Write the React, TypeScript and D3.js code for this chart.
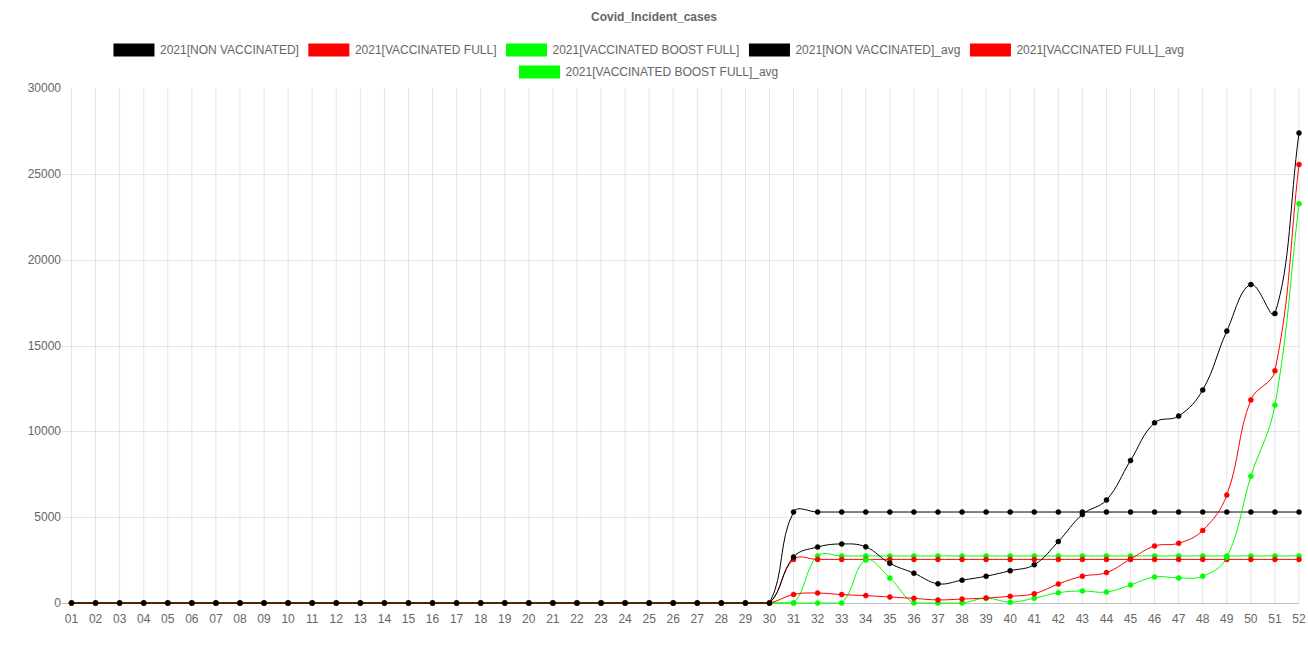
import { useMemo } from 'react'
import { scaleLinear, scalePoint, path as d3path } from 'd3'

const weeks = [
  '01', '02', '03', '04', '05', '06', '07', '08', '09', '10', '11', '12', '13',
  '14', '15', '16', '17', '18', '19', '20', '21', '22', '23', '24', '25', '26',
  '27', '28', '29', '30', '31', '32', '33', '34', '35', '36', '37', '38', '39',
  '40', '41', '42', '43', '44', '45', '46', '47', '48', '49', '50', '51', '52',
]

const nonVaccinated = [
  0, 0, 0, 0, 0, 0, 0, 0, 0, 0, 0, 0, 0, 0, 0, 0, 0, 0, 0, 0, 0, 0, 0, 0, 0, 0, 0, 0, 0, 0,
  2680, 3260, 3440, 3270, 2310, 1740, 1120, 1330, 1560, 1880, 2230, 3580, 5160, 6000,
  8300, 10500, 10890, 12410, 15840, 18550, 16860, 27380,
]

const vaccinatedFull = [
  0, 0, 0, 0, 0, 0, 0, 0, 0, 0, 0, 0, 0, 0, 0, 0, 0, 0, 0, 0, 0, 0, 0, 0, 0, 0, 0, 0, 0, 0,
  500, 580, 490, 430, 350, 270, 180, 230, 290, 390, 540, 1110, 1560, 1770,
  2560, 3320, 3480, 4230, 6290, 11830, 13530, 25550,
]

const vaccinatedBoost = [
  0, 0, 0, 0, 0, 0, 0, 0, 0, 0, 0, 0, 0, 0, 0, 0, 0, 0, 0, 0, 0, 0, 0, 0, 0, 0, 0, 0, 0, 0,
  0, 0, 0, 2500, 1460, 0, 0, 0, 280, 50, 280, 600, 700, 640,
  1050, 1520, 1460, 1560, 2650, 7380, 11530, 23260,
]

const nonVaccinatedAvg = [
  0, 0, 0, 0, 0, 0, 0, 0, 0, 0, 0, 0, 0, 0, 0, 0, 0, 0, 0, 0, 0, 0, 0, 0, 0, 0, 0, 0, 0, 0,
  5300, 5300, 5300, 5300, 5300, 5300, 5300, 5300, 5300, 5300, 5300, 5300, 5300, 5300,
  5300, 5300, 5300, 5300, 5300, 5300, 5300, 5300,
]

const vaccinatedFullAvg = [
  0, 0, 0, 0, 0, 0, 0, 0, 0, 0, 0, 0, 0, 0, 0, 0, 0, 0, 0, 0, 0, 0, 0, 0, 0, 0, 0, 0, 0, 0,
  2540, 2540, 2540, 2540, 2540, 2540, 2540, 2540, 2540, 2540, 2540, 2540, 2540, 2540,
  2540, 2540, 2540, 2540, 2540, 2540, 2540, 2540,
]

const vaccinatedBoostAvg = [
  0, 0, 0, 0, 0, 0, 0, 0, 0, 0, 0, 0, 0, 0, 0, 0, 0, 0, 0, 0, 0, 0, 0, 0, 0, 0, 0, 0, 0, 0,
  0, 2740, 2740, 2740, 2740, 2740, 2740, 2740, 2740, 2740, 2740, 2740, 2740, 2740,
  2740, 2740, 2740, 2740, 2740, 2740, 2740, 2740,
]

const yTicks = [0, 5000, 10000, 15000, 20000, 25000, 30000]

const datasets = [
  { label: '2021[NON VACCINATED]', color: '#000000', values: nonVaccinated },
  { label: '2021[VACCINATED FULL]', color: '#ff0000', values: vaccinatedFull },
  { label: '2021[VACCINATED BOOST FULL]', color: '#00ff00', values: vaccinatedBoost },
  { label: '2021[NON VACCINATED]_avg', color: '#000000', values: nonVaccinatedAvg },
  { label: '2021[VACCINATED FULL]_avg', color: '#ff0000', values: vaccinatedFullAvg },
  { label: '2021[VACCINATED BOOST FULL]_avg', color: '#00ff00', values: vaccinatedBoostAvg },
]

const FONT = '"Liberation Sans", Arial, Helvetica, sans-serif'
const W = 1308
const H = 654
const area = { left: 71.5, right: 1299, top: 88, bottom: 603 }

type Pt = { x: number; y: number }

// chart.js style spline (tension 0.4, control points kept inside the chart area)
function splinePath(pts: Pt[]) {
  const t = 0.4
  const cps = pts.map((cur, i) => {
    const prev = pts[i - 1] || cur
    const next = pts[i + 1] || cur
    const d01 = Math.hypot(cur.x - prev.x, cur.y - prev.y)
    const d12 = Math.hypot(next.x - cur.x, next.y - cur.y)
    let s01 = d01 / (d01 + d12)
    let s12 = d12 / (d01 + d12)
    if (isNaN(s01)) s01 = 0
    if (isNaN(s12)) s12 = 0
    const fa = t * s01
    const fb = t * s12
    const clampY = (v: number) => Math.max(area.top, Math.min(area.bottom, v))
    const clampX = (v: number) => Math.max(area.left, Math.min(area.right, v))
    return {
      prev: { x: clampX(cur.x - fa * (next.x - prev.x)), y: clampY(cur.y - fa * (next.y - prev.y)) },
      next: { x: clampX(cur.x + fb * (next.x - prev.x)), y: clampY(cur.y + fb * (next.y - prev.y)) },
    }
  })
  const p = d3path()
  pts.forEach((pt, i) => {
    if (i === 0) p.moveTo(pt.x, pt.y)
    else p.bezierCurveTo(cps[i - 1].next.x, cps[i - 1].next.y, cps[i].prev.x, cps[i].prev.y, pt.x, pt.y)
  })
  return p.toString()
}

function measure(text: string, font: string) {
  const ctx = document.createElement('canvas').getContext('2d')!
  ctx.font = font
  return ctx.measureText(text).width
}

export default function App() {
  const x = scalePoint<string>().domain(weeks).range([area.left, area.right])
  const y = scaleLinear().domain([0, 30000]).range([area.bottom, area.top])

  // legend rows, laid out like chart.js: box 40, gap 6, padding 10
  const legendRows = useMemo(() => {
    const rows: { items: { label: string; color: string; w: number }[]; width: number }[] = []
    datasets.forEach((d) => {
      const w = 40 + 6 + measure(d.label, `12px ${FONT}`)
      const row = rows[rows.length - 1]
      if (!row || row.width + w + 20 > W) rows.push({ items: [{ label: d.label, color: d.color, w }], width: w + 10 })
      else {
        row.items.push({ label: d.label, color: d.color, w })
        row.width += w + 10
      }
    })
    return rows
  }, [])

  return (
    <div style={{ position: 'absolute', left: 0, top: 0 }}>
      <svg width={W} height={H} style={{ display: 'block', fontFamily: FONT }}>
        <rect width={W} height={H} fill="#fff" />
        <text x={654} y={21} textAnchor="middle" fontSize={12} fontWeight="bold" fill="#666">
          Covid_Incident_cases
        </text>

        {legendRows.map((row, r) => {
          let cx = 654 - row.width / 2
          const top = 44 + r * 22
          return (
            <g key={r}>
              {row.items.map((it) => {
                const x0 = cx
                cx += it.w + 10
                return (
                  <g key={it.label}>
                    <rect x={x0} y={top} width={40} height={12} fill={it.color} stroke={it.color} strokeWidth={1} />
                    <text x={x0 + 46} y={top + 10} fontSize={12} fill="#666">
                      {it.label}
                    </text>
                  </g>
                )
              })}
            </g>
          )
        })}

        {/* grid */}
        {weeks.map((w) => (
          <line key={w} x1={x(w)} x2={x(w)} y1={area.top} y2={area.bottom} stroke="rgba(0,0,0,0.1)" strokeWidth={1} />
        ))}
        {yTicks.filter((v) => v < 30000).map((v) => (
          <line
            key={v}
            x1={area.left - 10}
            x2={area.right}
            y1={Math.round(y(v)) + 0.5}
            y2={Math.round(y(v)) + 0.5}
            stroke={v === 0 ? 'rgba(0,0,0,0.25)' : 'rgba(0,0,0,0.1)'}
            strokeWidth={1}
          />
        ))}
        {yTicks.map((v) => (
          <text key={v} x={61} y={y(v) + 4} textAnchor="end" fontSize={12} fill="#666">
            {v}
          </text>
        ))}
        {weeks.map((w) => (
          <text key={w} x={x(w)} y={623} textAnchor="middle" fontSize={12} fill="#666">
            {w}
          </text>
        ))}

        {/* chart.js paints the last dataset first */}
        {[...datasets].reverse().map((d) => {
          const pts = d.values.map((v, i) => ({ x: x(weeks[i])!, y: y(v) }))
          return (
            <g key={d.label}>
              <path d={splinePath(pts)} fill="none" stroke={d.color} strokeWidth={1} />
              {pts.map((p, i) => (
                <circle key={i} cx={p.x} cy={p.y} r={2.5} fill={d.color} stroke={d.color} strokeWidth={0.5} />
              ))}
            </g>
          )
        })}
      </svg>
    </div>
  )
}
